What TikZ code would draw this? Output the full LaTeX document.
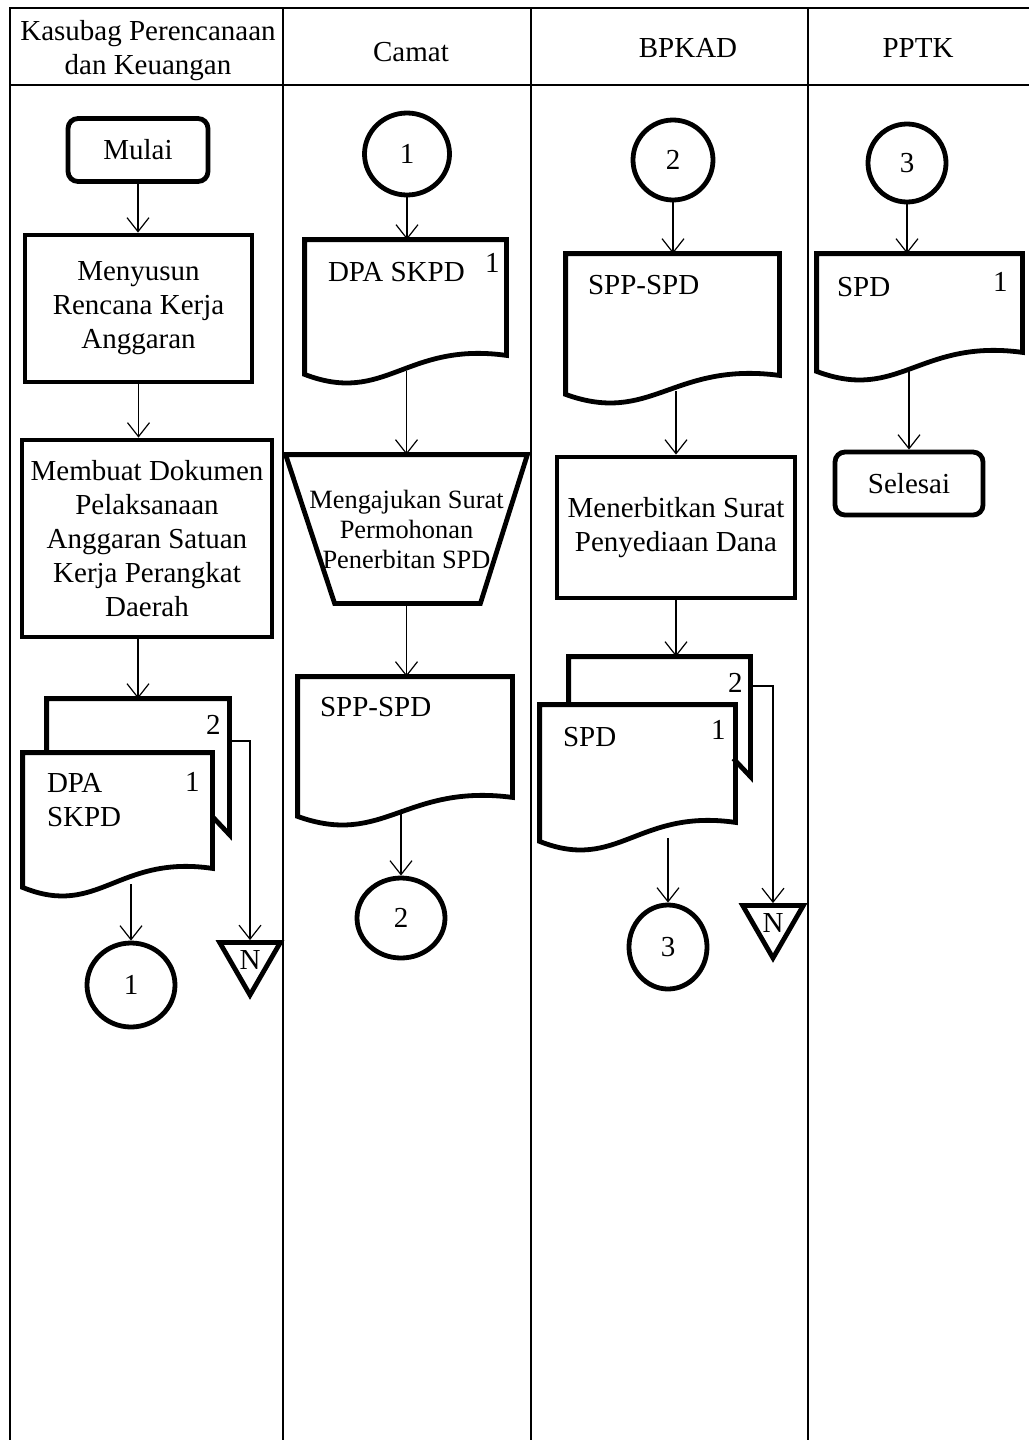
\documentclass[tikz,border=0pt]{standalone}
\usepackage{fontspec}
\setmainfont{Liberation Serif}
\usetikzlibrary{positioning, arrows.meta, calc, shapes.geometric}

\tikzset{
  thickline/.style={line width=2.4pt},
  procbox/.style={draw, thickline, rectangle, align=center, inner sep=0pt},
  termbox/.style={draw, thickline, rectangle, rounded corners=5pt, inner sep=0pt},
  docbox/.style={rectangle, inner sep=0pt},
  connector/.style={draw, thickline, ellipse, inner sep=0pt},
  offpage/.style={draw, thickline, regular polygon, regular polygon sides=3,
                  shape border rotate=180, inner sep=0pt, minimum size=35pt},
  arr/.style={-{Straight Barb[length=7pt,width=11pt]}, line width=0.6pt},
  lane/.style={line width=0.9pt},
  doclabel/.style={inner sep=0pt, align=left},
}

% document symbol with a wavy bottom, drawn round an empty node
\newcommand{\docshape}[1]{%
  \draw[thickline] let \p1=(#1.south west), \p2=(#1.north east) in
    (\x1,\y2) -- (\x2,\y2) -- (\x2,\y1)
    .. controls ({0.5*\x1+0.5*\x2},{\y1+7pt}) and ({0.6*\x1+0.4*\x2},{\y1-25pt}) ..
    (\x1,{\y1-9.5pt}) coordinate[pos=0.5] (#1-w) -- cycle;}
% second copy behind a document
\newcommand{\backdoc}[3]{%
  \draw[thickline] (#1.west |- #2.north) -- (#1.north west) -- (#1.north east)
    -- ++(0,#3) -- ++(-17,-18);}

\begin{document}
\begin{tikzpicture}[x=0.5pt, y=-0.5pt, font=\fontsize{14.5}{17}\selectfont]
  \useasboundingbox (0,0) rectangle (1029,1440);

  % lanes
  \draw[lane] (10,1440) -- (10,8) -- (1029,8);
  \draw[lane] (10,85) -- (1029,85);
  \foreach \lx in {283,531,808}
    \draw[lane] (\lx,8) -- (\lx,1440);

  \node[align=center] (hkasubag) at (148,51) {Kasubag Perencanaan\\dan Keuangan};
  \node (hcamat) at (411,52) {Camat};
  \node (hbpkad) at (688,48) {BPKAD};
  \node (hpptk) at (918,48) {PPTK};

  % Kasubag Perencanaan dan Keuangan
  \node[termbox, minimum width=70pt, minimum height=31.5pt] (mulai) at (138,150) {Mulai};
  \node[procbox, minimum width=113.5pt, minimum height=73.5pt] (rka) at (138.5,308.5)
    {Menyusun\\Rencana Kerja\\Anggaran};
  \node[procbox, minimum width=125pt, minimum height=98.5pt] (dokumen) at (147,538.5)
    {Membuat Dokumen\\Pelaksanaan\\Anggaran Satuan\\Kerja Perangkat\\Daerah};
  \node[docbox, minimum width=91pt, minimum height=42pt] (dpaback) at (138,741) {};
  \node[docbox, minimum width=94.5pt, minimum height=57.5pt] (dpafront) at (117.5,810.5) {};
  \backdoc{dpaback}{dpafront}{136}
  \docshape{dpafront}
  \node[doclabel, anchor=north west] (dpatext) at ($(dpafront.north west)+(24,20)$) {DPA\\SKPD};
  \node (dpaone) at ($(dpafront.north east)+(-20,29)$) {1};
  \node (dpatwo) at ($(dpaback.north east)+(-16,26)$) {2};
  \node[offpage] (arsip1) at (250,960) {N};
  \node[connector, minimum width=44pt, minimum height=42pt] (off1a) at (131,985) {1};

  \draw[arr] (mulai.south) -- (mulai.south |- rka.north);
  \draw[arr] (rka.south) -- (rka.south |- dokumen.north);
  \draw[arr] (dpaback.north |- dokumen.south) -- (dpaback.north);
  \draw[arr] (dpaback.east) -| (arsip1.north);
  \draw[arr] (off1a.north |- dpafront-w) -- (off1a.north);

  % Camat
  \node[connector, minimum width=42.5pt, minimum height=41pt] (off1b) at (407,154) {1};
  \node[docbox, minimum width=100.5pt, minimum height=57.5pt] (dpacamat) at (405.5,297.5) {};
  \docshape{dpacamat}
  \node[doclabel, anchor=west] (dpacamattext) at ($(dpacamat.north west)+(23,32)$) {DPA SKPD};
  \node (dpacamatone) at ($(dpacamat.north east)+(-14,23)$) {1};
  \node[docbox, minimum width=120.5pt, minimum height=74pt, align=center,
        font=\fontsize{13.2}{15}\selectfont] (ajukan) at (406.5,529)
    {Mengajukan Surat\\Permohonan\\Penerbitan SPD};
  \draw[thickline] (ajukan.north west) -- (ajukan.north east)
    -- ($(ajukan.south east)+(-47,0)$) -- ($(ajukan.south west)+(49,0)$) -- cycle;
  \node[docbox, minimum width=107pt, minimum height=60pt] (sppcamat) at (405,737) {};
  \docshape{sppcamat}
  \node[doclabel, anchor=west] (sppcamattext) at ($(sppcamat.north west)+(22,30)$) {SPP-SPD};
  \node[connector, minimum width=44pt, minimum height=40pt] (off2a) at (401,918) {2};

  \draw[arr] (off1b.south) -- (off1b.south |- dpacamat.north);
  \draw[arr] (ajukan.north |- dpacamat-w) -- (ajukan.north);
  \draw[arr] (ajukan.south) -- (ajukan.south |- sppcamat.north);
  \draw[arr] (off2a.north |- sppcamat-w) -- (off2a.north);

  % BPKAD
  \node[connector, minimum width=40pt, minimum height=40pt] (off2b) at (673,160) {2};
  \node[docbox, minimum width=106.5pt, minimum height=60.5pt] (sppbpkad) at (672.5,314.5) {};
  \docshape{sppbpkad}
  \node[doclabel, anchor=west] (sppbpkadtext) at ($(sppbpkad.north west)+(22,31)$) {SPP-SPD};
  \node[procbox, minimum width=119pt, minimum height=70.5pt] (terbit) at (676,527.5)
    {Menerbitkan Surat\\Penyediaan Dana};
  \node[docbox, minimum width=90.5pt, minimum height=29pt] (spdback) at (659.5,686) {};
  \node[docbox, minimum width=97.5pt, minimum height=58.5pt] (spdfront) at (637.5,763.5) {};
  \backdoc{spdback}{spdfront}{120}
  \docshape{spdfront}
  \node[doclabel, anchor=west] (spdfronttext) at ($(spdfront.north west)+(23,32)$) {SPD};
  \node (spdone) at ($(spdfront.north east)+(-17,25)$) {1};
  \node (spdtwo) at ($(spdback.north east)+(-15,26)$) {2};
  \node[offpage] (arsip2) at (773,923) {N};
  \node[connector, minimum width=39pt, minimum height=42pt] (off3a) at (668,947) {3};

  \draw[arr] (off2b.south) -- (off2b.south |- sppbpkad.north);
  \draw[arr] (terbit.north |- sppbpkad-w) -- (terbit.north);
  \draw[arr] (terbit.south) -- (terbit.south |- spdback.north);
  \draw[arr] (spdback.east) -| (arsip2.north);
  \draw[arr] (off3a.north |- spdfront-w) -- (off3a.north);

  % PPTK
  \node[connector, minimum width=39pt, minimum height=39pt] (off3b) at (907,163) {3};
  \node[docbox, minimum width=102.5pt, minimum height=49pt] (spdpptk) at (919.5,303) {};
  \docshape{spdpptk}
  \node[doclabel, anchor=west] (spdpptktext) at ($(spdpptk.north west)+(20,33)$) {SPD};
  \node (spdpptkone) at ($(spdpptk.north east)+(-22,28)$) {1};
  \node[termbox, minimum width=74pt, minimum height=31.5pt] (selesai) at (909,483.5) {Selesai};

  \draw[arr] (off3b.south) -- (off3b.south |- spdpptk.north);
  \draw[arr] (selesai.north |- spdpptk-w) -- (selesai.north);
\end{tikzpicture}
\end{document}
